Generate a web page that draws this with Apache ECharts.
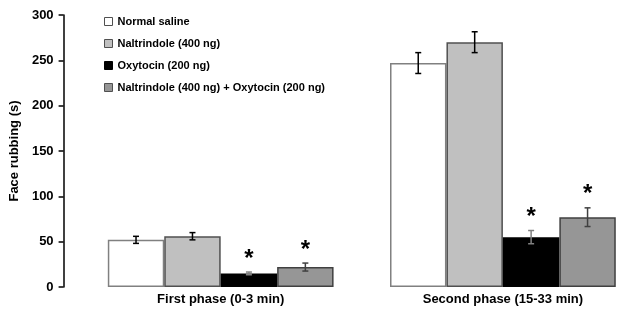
<!DOCTYPE html>
<html><head><meta charset="utf-8">
<script src="https://cdn.jsdelivr.net/npm/echarts@6/dist/echarts.min.js"></script>
<style>html,body{margin:0;padding:0;background:#fff;overflow:hidden}#c{width:645px;height:311px}</style>
</head><body><div id="c"></div>
<script>
const categories = ['First phase (0-3 min)', 'Second phase (15-33 min)'];
const seriesNames = ['Normal saline', 'Naltrindole (400 ng)', 'Oxytocin (200 ng)', 'Naltrindole (400 ng) + Oxytocin (200 ng)'];
const salineVals = [52, 247];
const naltVals = [56, 270];
const oxyVals = [15, 55];
const comboVals = [22, 77];
const salineErr = [3.9, 11.5];
const naltErr = [4, 11.5];
const oxyErr = [1.5, 7.3];
const comboErr = [4.4, 10.3];
const salineSig = [false, false];
const naltSig = [false, false];
const oxySig = [true, true];
const comboSig = [true, true];
const yTicks = [0, 50, 100, 150, 200, 250, 300];

const vals = [salineVals, naltVals, oxyVals, comboVals];
const errs = [salineErr, naltErr, oxyErr, comboErr];
const sigs = [salineSig, naltSig, oxySig, comboSig];
const fills = ['#ffffff', '#c0c0c0', '#000000', '#969696'];
const borders = ['#808080', '#505050', '#000000', '#404040'];
const errColors = ['#000000', '#000000', '#808080', '#404040'];
const font = 'Liberation Sans, Arial, sans-serif';
const gapRatio = 0.2;

const chart = echarts.init(document.getElementById('c'), null, {renderer: 'canvas'});
const series = [];
vals.forEach((v, i) => {
  series.push({
    name: seriesNames[i], type: 'bar', data: v,
    barGap: '0%', barCategoryGap: (gapRatio * 100) + '%',
    itemStyle: {color: fills[i], borderColor: borders[i], borderWidth: 1.5},
    emphasis: {disabled: true}, z: 2
  });
});
vals.forEach((v, i) => {
  series.push({
    type: 'custom', z: 5, silent: true,
    data: v.map((val, k) => [k, val, errs[i][k], sigs[i][k] ? 1 : 0]),
    renderItem: function (params, api) {
      const k = api.value(0), val = api.value(1), e = api.value(2), s = api.value(3);
      const band = api.size([1, 0])[0];
      const bw = band * (1 - gapRatio) / 4;
      const cx = api.coord([k, val])[0] + (i - 1.5) * bw;
      const top = api.coord([k, val + e])[1];
      const bot = api.coord([k, val - e])[1];
      const st = {stroke: errColors[i], lineWidth: 1.5};
      const children = [
        {type: 'line', shape: {x1: cx, y1: top, x2: cx, y2: bot}, style: st},
        {type: 'line', shape: {x1: cx - 3, y1: top, x2: cx + 3, y2: top}, style: st},
        {type: 'line', shape: {x1: cx - 3, y1: bot, x2: cx + 3, y2: bot}, style: st}
      ];
      if (s) {
        children.push({type: 'text', style: {text: '*', x: cx, y: top - 1, align: 'center', verticalAlign: 'bottom',
          font: 'bold 24px ' + font, fill: '#000'}});
      }
      return {type: 'group', children: children};
    }
  });
});

chart.setOption({
  animation: false,
  backgroundColor: '#fff',
  grid: {left: 78, right: 1, top: 15, bottom: 24, containLabel: false},
  legend: {
    show: true, orient: 'vertical', left: 104, top: 16, padding: 0, itemGap: 11,
    itemWidth: 8, itemHeight: 8, icon: 'rect',
    textStyle: {fontFamily: font, fontWeight: 'bold', fontSize: 11, color: '#000'},
    data: seriesNames.map((n, i) => ({name: n, itemStyle: {color: fills[i], borderColor: i === 2 ? '#000' : '#505050', borderWidth: 1}})),
    selectedMode: false
  },
  xAxis: {
    type: 'category', data: categories,
    axisLine: {show: false}, axisTick: {show: false},
    axisLabel: {fontFamily: font, fontWeight: 'bold', fontSize: 13, color: '#000', margin: 6}
  },
  yAxis: {
    type: 'value', min: yTicks[0], max: yTicks[yTicks.length - 1], interval: 50,
    offset: 16,
    name: 'Face rubbing (s)', nameLocation: 'middle', nameGap: 36, nameRotate: 90,
    nameTextStyle: {fontFamily: font, fontWeight: 'bold', fontSize: 13, color: '#000'},
    axisLine: {show: true, lineStyle: {color: '#000', width: 1.5}},
    axisTick: {show: true, length: 5, lineStyle: {color: '#000', width: 1.5}},
    axisLabel: {fontFamily: font, fontWeight: 'bold', fontSize: 13, color: '#000', margin: 10},
    splitLine: {show: false}
  },
  series: series
});
</script></body></html>
